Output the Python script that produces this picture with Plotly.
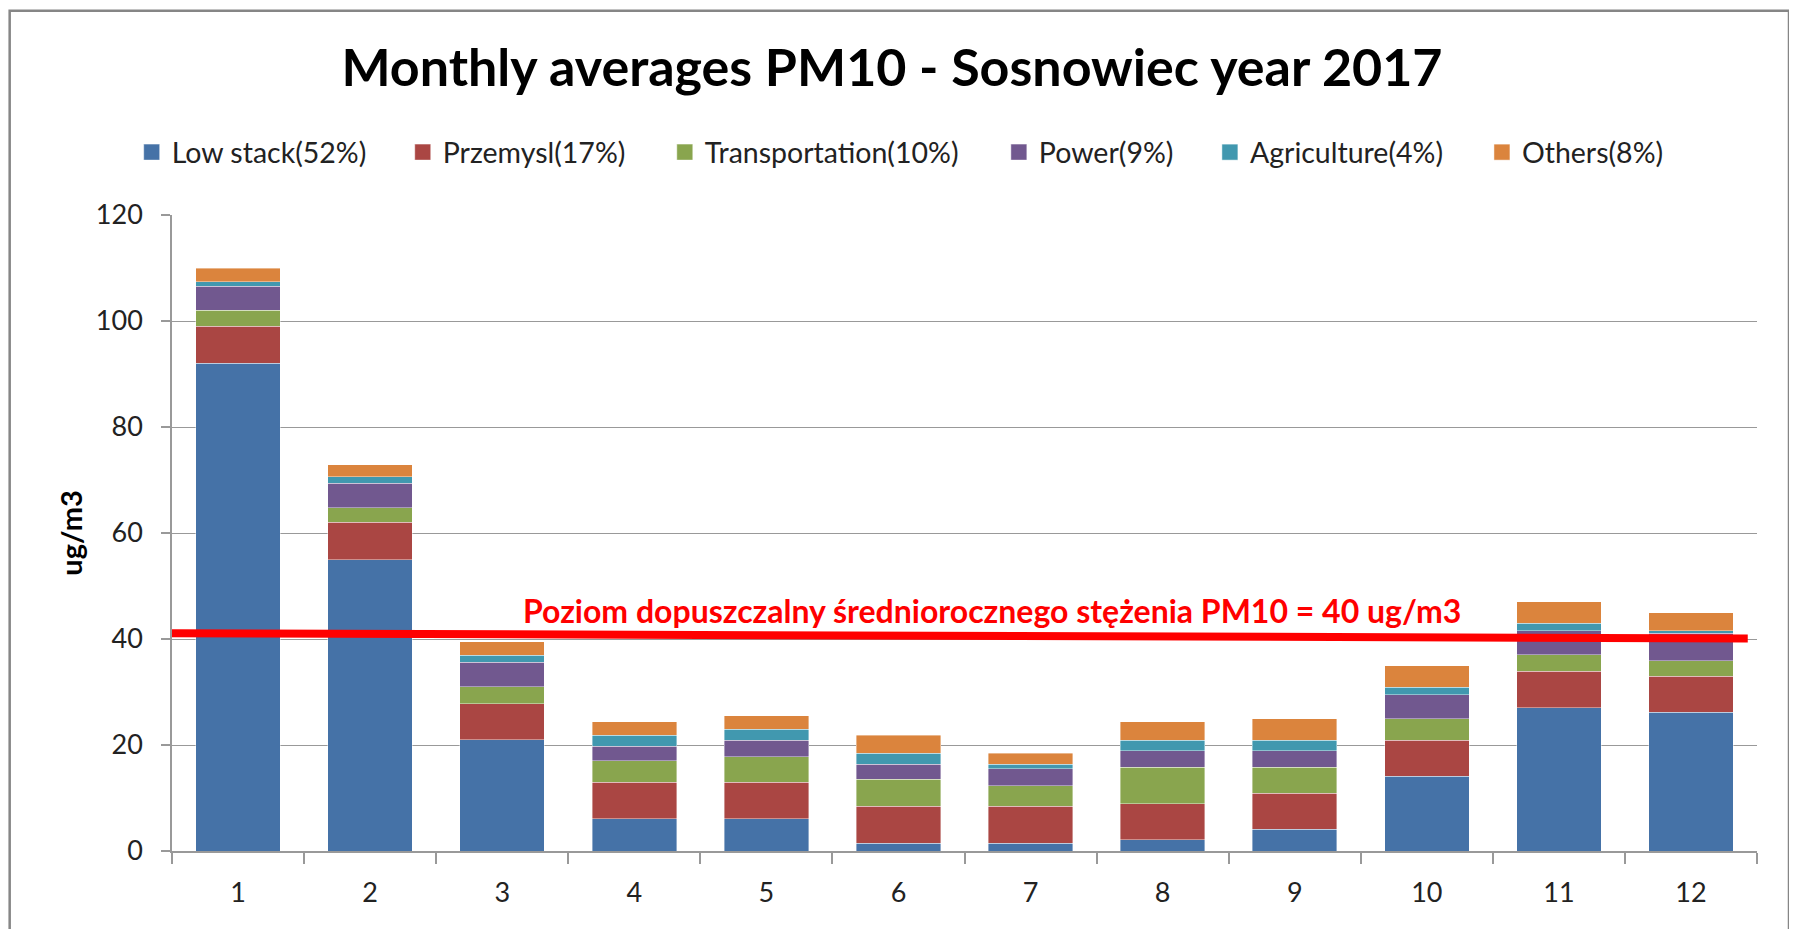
import plotly.graph_objects as go

months = [1, 2, 3, 4, 5, 6, 7, 8, 9, 10, 11, 12]
month_labels = ["1", "2", "3", "4", "5", "6", "7", "8", "9", "10", "11", "12"]

low_stack = [92, 55, 21, 6.1, 6.1, 1.5, 1.5, 2.1, 4.1, 14.1, 27, 26.2]
przemysl = [7, 7, 6.8, 6.9, 6.9, 6.9, 6.9, 6.8, 6.8, 6.8, 6.9, 6.8]
transportation = [3, 2.8, 3.2, 4.0, 4.8, 5.1, 3.9, 6.9, 4.9, 4.1, 3.1, 2.9]
power = [4.6, 4.6, 4.6, 2.8, 3.1, 2.9, 3.2, 3.1, 3.1, 4.5, 4.6, 5.2]
agriculture = [0.8, 1.2, 1.3, 2.0, 2.1, 2.0, 0.9, 2.0, 2.0, 1.4, 1.4, 0.5]
others = [2.6, 2.3, 2.6, 2.6, 2.5, 3.4, 2.0, 3.5, 4.1, 4.1, 4.0, 3.4]

series_names = ["Low stack(52%)", "Przemysl(17%)", "Transportation(10%)",
                "Power(9%)", "Agriculture(4%)", "Others(8%)"]
series_values = [low_stack, przemysl, transportation, power, agriculture, others]
series_colors = ["#4572A7", "#AA4643", "#89A54E", "#71588F", "#4198AF", "#DB843D"]

# drawn limit line (slightly tilted in original) and its label
limit_x = [0.49, 12.43]
limit_y = [41.1, 40.1]
limit_label = "Poziom dopuszczalny średniorocznego stężenia PM10 = 40 ug/m3"

FONT = "Lato"

# page offset (browser default body margin)
OFF = 8
W, H = 1797, 929
# target screen positions of plot area
SCR_L, SCR_R, SCR_T, SCR_B = 172.3, 1757, 214.5, 851.5
L = SCR_L - OFF
R = W - (SCR_R - OFF)
T = SCR_T - OFF
B = H - (SCR_B - OFF)
PW = W - L - R
PH = H - T - B


def px_x(px):
    """screen x pixel -> paper x"""
    return (px - OFF - L) / PW


def px_y(py):
    """screen y pixel -> paper y"""
    return (H - B - (py - OFF)) / PH


fig = go.Figure()

legend_text_starts = [172, 443, 705, 1039, 1250, 1522]
for i, (name, vals, col) in enumerate(zip(series_names, series_values, series_colors)):
    lg = "legend" if i == 0 else f"legend{i+1}"
    fig.add_trace(go.Bar(
        x=months, y=vals, name=name,
        marker=dict(color=col, line=dict(color="rgba(255,255,255,0.5)", width=0.8)),
        legendgroup=name, showlegend=False,
    ))
    # legend-only entry with a larger square swatch
    fig.add_trace(go.Scatter(
        x=[None], y=[None], mode="markers", name=name,
        marker=dict(symbol="square", size=16, color=col,
                    line=dict(color="rgba(255,255,255,0.6)", width=0.8)),
        legendgroup=name, legend=lg, hoverinfo="skip",
    ))

fig.add_trace(go.Scatter(
    x=limit_x, y=limit_y, mode="lines",
    line=dict(color="#FF0000", width=8),
    showlegend=False, hoverinfo="skip",
))

layout_legends = {}
for i, start in enumerate(legend_text_starts):
    key = "legend" if i == 0 else f"legend{i+1}"
    layout_legends[key] = dict(
        x=px_x(start - 40), xanchor="left",
        y=px_y(152), yanchor="middle",
        orientation="h", itemsizing="trace",
        font=dict(family=FONT, size=28.5, color="#222"),
        bgcolor="rgba(0,0,0,0)", borderwidth=0,
    )

fig.update_layout(
    width=W, height=H,
    margin=dict(l=L, r=R, t=T, b=B, autoexpand=False),
    paper_bgcolor="white", plot_bgcolor="white",
    barmode="stack", bargap=0.36,
    title=dict(
        text="<b>Monthly averages PM10 - Sosnowiec year 2017</b>",
        font=dict(family=FONT, size=52, color="#000"),
        x=(892 - OFF) / W, xref="container", xanchor="center",
        y=1 - (68 - OFF) / H, yref="container", yanchor="middle",
    ),
    font=dict(family=FONT, size=26, color="#222"),
    **layout_legends,
)

fig.update_xaxes(
    range=[0.5, 12.5],
    tickmode="array", tickvals=months, ticktext=month_labels,
    ticks="", ticklabelstandoff=17,
    tickfont=dict(family=FONT, size=27, color="#222"),
    showgrid=False, zeroline=False,
    showline=True, linecolor="#999", linewidth=1.5,
    minor=dict(tick0=0.5, dtick=1, ticks="outside", ticklen=11,
               tickcolor="#999", tickwidth=1.5, showgrid=False),
)

fig.update_yaxes(
    range=[0, 120], tickmode="linear", tick0=0, dtick=20,
    ticks="outside", ticklen=9, tickcolor="#999", tickwidth=1.5,
    ticklabelstandoff=13,
    tickfont=dict(family=FONT, size=27, color="#222"),
    showgrid=True, gridcolor="#999", gridwidth=1.3,
    zeroline=False,
    showline=True, linecolor="#999", linewidth=1.5,
)

fig.add_annotation(
    text="<b>ug/m3</b>", textangle=-90,
    xref="paper", yref="paper", x=px_x(70), y=0.5,
    xanchor="center", yanchor="middle", showarrow=False,
    font=dict(family=FONT, size=29, color="#000"),
)

fig.add_annotation(
    text="<b>" + limit_label + "</b>",
    xref="paper", yref="paper", x=px_x(521), y=px_y(611),
    xanchor="left", yanchor="middle", showarrow=False,
    font=dict(family=FONT, size=32, color="#FF0000"),
)

fig.add_shape(
    type="rect", xref="paper", yref="paper",
    x0=px_x(10), x1=px_x(1789), y0=px_y(945), y1=px_y(10),
    line=dict(color="#868686", width=2.5), fillcolor="rgba(0,0,0,0)",
    layer="below",
)

fig.write_html("out.html")
